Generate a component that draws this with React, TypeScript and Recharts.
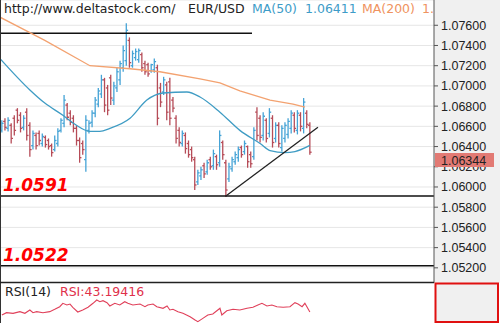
import React from 'react';
import { ComposedChart, LineChart, Bar, Line, XAxis, YAxis, CartesianGrid, ReferenceLine } from 'recharts';

// ---- Data (EUR/USD OHLC bars) ----
const openP = [
  1.0656, 1.0665, 1.0658, 1.0661, 1.0668, 1.0676, 1.0671, 1.0659, 1.0674, 1.0661,
  1.0641, 1.0651, 1.0653, 1.0643, 1.0649, 1.0646, 1.0641, 1.0637, 1.0643, 1.0656,
  1.0663, 1.0681, 1.0673, 1.0668, 1.0658, 1.0646, 1.0643, 1.0627, 1.0656, 1.0664,
  1.0673, 1.0682, 1.0692, 1.0706, 1.0698, 1.0708, 1.0686, 1.0698, 1.0706, 1.0718,
  1.0725, 1.0745, 1.0720, 1.0728, 1.0726, 1.0731, 1.0722, 1.0721, 1.0715, 1.0716,
  1.0718, 1.0698, 1.0694, 1.0701, 1.0704, 1.0686, 1.0668, 1.0656, 1.0643, 1.0651,
  1.0643, 1.0637, 1.0627, 1.0605, 1.0611, 1.0621, 1.0615, 1.0627, 1.0621, 1.0630,
  1.0624, 1.0644, 1.0624, 1.0608, 1.0618, 1.0625, 1.0629, 1.0639, 1.0635, 1.0640,
  1.0632, 1.0630, 1.0674, 1.0668, 1.0651, 1.0666, 1.0653, 1.0668, 1.0648, 1.0661,
  1.0639, 1.0648, 1.0652, 1.0658, 1.0671, 1.0656, 1.0671, 1.0658, 1.0673, 1.0661,
];
const highP = [
  1.0666, 1.0668, 1.0669, 1.0663, 1.0671, 1.0678, 1.0674, 1.0671, 1.0678, 1.0664,
  1.0656, 1.0654, 1.0656, 1.0653, 1.0651, 1.0648, 1.0643, 1.0651, 1.0658, 1.0668,
  1.0691, 1.0683, 1.0676, 1.0671, 1.0661, 1.0649, 1.0646, 1.0671, 1.0666, 1.0676,
  1.0689, 1.0698, 1.0711, 1.0708, 1.0701, 1.0711, 1.0704, 1.0718, 1.0725, 1.0740,
  1.0762, 1.0748, 1.0735, 1.0737, 1.0737, 1.0733, 1.0725, 1.0723, 1.0722, 1.0727,
  1.0721, 1.0703, 1.0709, 1.0704, 1.0708, 1.0689, 1.0671, 1.0659, 1.0656, 1.0654,
  1.0646, 1.0640, 1.0630, 1.0617, 1.0620, 1.0624, 1.0627, 1.0630, 1.0637, 1.0632,
  1.0656, 1.0646, 1.0627, 1.0624, 1.0630, 1.0635, 1.0640, 1.0641, 1.0646, 1.0641,
  1.0635, 1.0659, 1.0679, 1.0671, 1.0674, 1.0668, 1.0678, 1.0671, 1.0664, 1.0664,
  1.0661, 1.0664, 1.0668, 1.0676, 1.0674, 1.0676, 1.0674, 1.0688, 1.0676, 1.0664,
];
const lowP = [
  1.0654, 1.0656, 1.0655, 1.0643, 1.0651, 1.0663, 1.0654, 1.0656, 1.0646, 1.0630,
  1.0637, 1.0637, 1.0641, 1.0640, 1.0639, 1.0637, 1.0630, 1.0635, 1.0640, 1.0654,
  1.0659, 1.0666, 1.0661, 1.0654, 1.0641, 1.0624, 1.0632, 1.0615, 1.0653, 1.0659,
  1.0669, 1.0679, 1.0688, 1.0674, 1.0671, 1.0681, 1.0681, 1.0694, 1.0701, 1.0714,
  1.0720, 1.0718, 1.0718, 1.0725, 1.0723, 1.0714, 1.0711, 1.0709, 1.0713, 1.0713,
  1.0661, 1.0679, 1.0691, 1.0666, 1.0661, 1.0674, 1.0643, 1.0640, 1.0640, 1.0633,
  1.0629, 1.0625, 1.0597, 1.0602, 1.0607, 1.0609, 1.0612, 1.0617, 1.0617, 1.0617,
  1.0620, 1.0627, 1.0590, 1.0605, 1.0615, 1.0622, 1.0625, 1.0629, 1.0632, 1.0619,
  1.0619, 1.0627, 1.0646, 1.0644, 1.0646, 1.0644, 1.0649, 1.0639, 1.0644, 1.0639,
  1.0635, 1.0644, 1.0648, 1.0653, 1.0654, 1.0652, 1.0655, 1.0653, 1.0658, 1.0632,
];
const closeP = [
  1.0663, 1.0659, 1.0666, 1.0648, 1.0656, 1.0666, 1.0658, 1.0668, 1.0651, 1.0637,
  1.0653, 1.0641, 1.0646, 1.0650, 1.0642, 1.0640, 1.0634, 1.0646, 1.0655, 1.0666,
  1.0686, 1.0669, 1.0664, 1.0658, 1.0646, 1.0629, 1.0637, 1.0666, 1.0663, 1.0673,
  1.0686, 1.0695, 1.0706, 1.0681, 1.0676, 1.0688, 1.0700, 1.0714, 1.0722, 1.0735,
  1.0755, 1.0723, 1.0732, 1.0734, 1.0735, 1.0718, 1.0714, 1.0712, 1.0721, 1.0724,
  1.0668, 1.0684, 1.0706, 1.0674, 1.0668, 1.0678, 1.0648, 1.0644, 1.0653, 1.0638,
  1.0632, 1.0629, 1.0602, 1.0614, 1.0617, 1.0613, 1.0624, 1.0620, 1.0633, 1.0622,
  1.0651, 1.0632, 1.0597, 1.0620, 1.0627, 1.0632, 1.0637, 1.0632, 1.0643, 1.0625,
  1.0623, 1.0656, 1.0651, 1.0649, 1.0670, 1.0648, 1.0674, 1.0644, 1.0661, 1.0643,
  1.0658, 1.0661, 1.0665, 1.0673, 1.0658, 1.0673, 1.0660, 1.0684, 1.0662, 1.06344,
];

// moving averages (bar index, value)
const ma50Idx = [-0.6, 9, 13.8, 19.6, 23.5, 28.3, 31.5, 34.7, 41.2, 46.6, 51.8, 59.5, 63.7, 70.1, 76.5, 83, 86.2, 91, 94.2, 99];
const ma50Val = [1.0727, 1.0696, 1.0683, 1.0671, 1.0662, 1.0655, 1.0655, 1.0658, 1.0668, 1.0686, 1.0693, 1.0694, 1.0689, 1.0674, 1.0656, 1.0643, 1.0636, 1.0634, 1.0635, 1.06411];
const ma200Idx = [-0.6, 13.8, 28.3, 41.2, 50.8, 63.7, 70.1, 76.5, 86.2, 93.6, 97.4];
const ma200Val = [1.0768, 1.0745, 1.0720, 1.0717, 1.0714, 1.0707, 1.0703, 1.0695, 1.0686, 1.0682, 1.0679];

// RSI(14)
const rsiIdx = [0, 1.5, 3.6, 5.8, 7.4, 9, 10, 11.2, 13.2, 15.4, 17, 18.6, 19.6, 20.9, 21.9, 22.8, 24.4, 26, 27.7, 29.3,
  30.5, 31.5, 32.5, 33.8, 34.7, 36.3, 37.9, 39.5, 40.5, 42.1, 44.4, 46, 46.9, 48.6, 49.8, 51.8, 53.1, 54, 55, 56.6,
  58.2, 60.5, 62.1, 63, 64.6, 66.2, 67.8, 69.1, 70.1, 70.7, 72.3, 74.3, 76.5, 78.8, 80.7, 82.3, 83.6, 85.2, 86.8, 88.4,
  90.4, 92.6, 94.2, 95.2, 96.5, 97.4, 99];
const rsiVal = [39.0, 42.2, 41.3, 43.6, 41.3, 45.9, 42.2, 43.6, 42.2, 43.6, 46.8, 50.4, 55.1, 52.8, 54.1, 49.6, 43.1, 45.9, 49.6, 55.1,
  59.6, 57.3, 58.7, 55.9, 51.4, 55.1, 52.8, 57.3, 55.1, 52.8, 54.1, 50.4, 52.8, 54.1, 50.4, 48.2, 51.4, 45.9, 46.8, 43.6,
  41.3, 36.7, 32.1, 29.8, 34.4, 39.0, 40.4, 44.9, 48.2, 39.0, 44.9, 46.8, 45.9, 48.2, 49.6, 52.8, 55.1, 51.4, 52.8, 50.4,
  49.6, 50.4, 56.0, 54.1, 50.4, 55.1, 43.19];

const priceTicks = [1.052, 1.054, 1.056, 1.058, 1.06, 1.062, 1.064, 1.066, 1.068, 1.07, 1.072, 1.074, 1.076];
const support1 = 1.0591;
const support2 = 1.0522;
const resistance = 1.0752;
const resistanceEnd = 80.4;
const trendStart = { x: 72, y: 1.0591 };
const trendEnd = { x: 101.6, y: 1.0659 };
const lastPrice = '1.06344';

// ---- tables built from the arrays ----
const bars = openP.map((o, i) => ({ i, o, h: highP[i], l: lowP[i], c: closeP[i], range: [lowP[i], highP[i]] }));
const ma50 = ma50Idx.map((i, k) => ({ i, v: ma50Val[k] }));
const ma200 = ma200Idx.map((i, k) => ({ i, v: ma200Val[k] }));
const rsi = rsiIdx.map((i, k) => ({ i, v: rsiVal[k] }));

const X_DOMAIN: [number, number] = [-0.6, 138.9];
const UP = '#45a3d6';
const DOWN = '#b64c58';

const OHLC = (props: any) => {
  const { x, y, width, height, payload } = props;
  if (!payload || x == null || y == null) return null;
  const { o, h, l, c } = payload;
  const top = Math.min(y, y + height);
  const bottom = Math.max(y, y + height);
  const cx = x + width / 2;
  const span = h - l || 1;
  const py = (v: number) => top + ((h - v) / span) * (bottom - top);
  const col = c >= o ? UP : DOWN;
  return (
    <g stroke={col} strokeWidth={1.3}>
      <line x1={cx} x2={cx} y1={top} y2={bottom} />
      <line x1={cx - 1.8} x2={cx} y1={py(o)} y2={py(o)} />
      <line x1={cx} x2={cx + 1.8} y1={py(c)} y2={py(c)} />
    </g>
  );
};

const font = 'DejaVu Sans, Verdana, sans-serif';
const axisFont = 'Liberation Sans, Arial, sans-serif';

export default function App() {
  return (
    <div style={{ position: 'absolute', left: 0, top: 0, width: 500, height: 323, background: '#fff', overflow: 'hidden' }}>
      <div style={{ position: 'absolute', left: 434, top: 0, width: 66, height: 283, background: '#f0f0f0' }} />
      <div style={{ position: 'absolute', left: 0, top: 0 }}>
        <ComposedChart width={500} height={283} data={bars} margin={{ top: 0, right: 0, bottom: 0, left: 0 }}>
          <CartesianGrid vertical={false} stroke="#e6e6e6" />
          <XAxis dataKey="i" type="number" domain={X_DOMAIN} allowDataOverflow hide />
          <YAxis
            orientation="right"
            width={66}
            type="number"
            domain={[1.0505, 1.0785]}
            allowDataOverflow
            ticks={priceTicks}
            interval={0}
            tickFormatter={(v: number) => v.toFixed(5)}
            tick={{ fontFamily: axisFont, fontSize: 12.5, fill: '#222' }}
            tickSize={4}
            tickMargin={3}
            axisLine={{ stroke: '#555' }}
            tickLine={{ stroke: '#555' }}
          />
          <ReferenceLine y={support1} stroke="#111" strokeWidth={1.5} />
          <ReferenceLine y={support2} stroke="#111" strokeWidth={1.5} />
          <ReferenceLine segment={[{ x: X_DOMAIN[0], y: resistance }, { x: resistanceEnd, y: resistance }]} stroke="#111" strokeWidth={1.5} />
          <Line data={ma200} dataKey="v" type="linear" stroke="#f3a270" strokeWidth={1.3} dot={false} isAnimationActive={false} />
          <Line data={ma50} dataKey="v" type="monotone" stroke="#3f9cc4" strokeWidth={1.3} dot={false} isAnimationActive={false} />
          <Bar dataKey="range" barSize={3} shape={OHLC} isAnimationActive={false} />
          <ReferenceLine segment={[trendStart, trendEnd]} stroke="#222" strokeWidth={1.3} ifOverflow="visible" />
        </ComposedChart>
      </div>
      <div style={{ position: 'absolute', left: 0, top: 283 }}>
        <LineChart width={500} height={40} data={rsi} margin={{ top: 0, right: 66, bottom: 0, left: 0 }}>
          <XAxis dataKey="i" type="number" domain={X_DOMAIN} allowDataOverflow hide />
          <YAxis domain={[28, 83]} allowDataOverflow hide />
          <Line dataKey="v" type="linear" stroke="#e0405a" strokeWidth={1.1} dot={false} isAnimationActive={false} />
        </LineChart>
      </div>
      <svg width={500} height={323} style={{ position: 'absolute', left: 0, top: 0, pointerEvents: 'none' }}>
        <line x1={0.5} x2={0.5} y1={0} y2={323} stroke="#333" />
        <line x1={0} x2={434} y1={282.5} y2={282.5} stroke="#222" strokeWidth={1.5} />
        <rect x={435.5} y={283.5} width={62.5} height={38.5} fill="#f0f0f0" stroke="#e01010" strokeWidth={2} />
        <g fontFamily={font} fontSize={12.5}>
          <text x={4} y={13} fill="#222">http://www.deltastock.com/</text>
          <text x={188} y={13} fill="#222">EUR/USD</text>
          <text x={252} y={13} fill="#3d9cc8">MA(50)</text>
          <text x={305} y={13} fill="#3d9cc8">1.06411</text>
          <text x={362} y={13} fill="#ef9360">MA(200)</text>
          <text x={422} y={13} fill="#ef9360">1.</text>
          <text x={5} y={296} fill="#222">RSI(14)</text>
          <text x={60} y={296} fill="#e0304a">RSI:43.19416</text>
        </g>
        <g fontFamily={font} fontSize={17} fontWeight="bold" fontStyle="italic" fill="#ff0000">
          <text x={3} y={191}>1.0591</text>
          <text x={3} y={261}>1.0522</text>
        </g>
        <rect x={435} y={153} width={59} height={14} fill="#e27a74" />
        <text x={441} y={164.5} fontFamily={axisFont} fontSize={12.5} fill="#222">{lastPrice}</text>
      </svg>
    </div>
  );
}
